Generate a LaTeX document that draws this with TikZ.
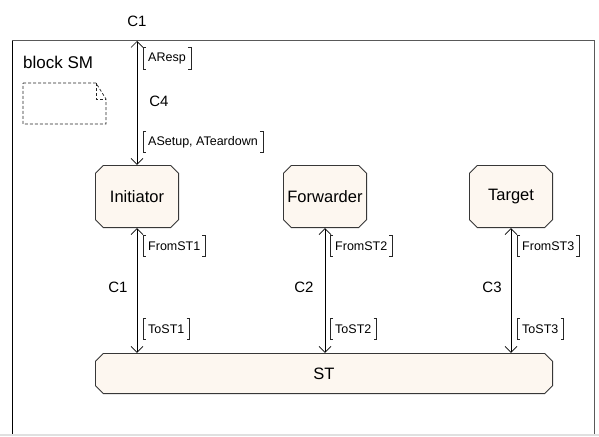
\documentclass[tikz,border=0pt]{standalone}
\usepackage{fontspec}
\setmainfont{Liberation Sans}
\usetikzlibrary{arrows.meta}
\definecolor{partfill}{RGB}{253,247,240}
\definecolor{partline}{RGB}{55,55,55}
\newcommand\sigbrackets[1]{%
  \draw[brk] ([xshift=3pt]#1.north west) -- (#1.north west) -- (#1.south west) -- ([xshift=3pt]#1.south west);
  \draw[brk] ([xshift=-3pt]#1.north east) -- (#1.north east) -- (#1.south east) -- ([xshift=-3pt]#1.south east);}
\begin{document}
\begin{tikzpicture}[x=1pt,y=-1pt,
  part/.style={rectangle, inner sep=0pt, font=\fontsize{16.5}{18}\selectfont,
    path picture={
      \path (path picture bounding box.north west) coordinate (pnw)
            (path picture bounding box.south east) coordinate (pse);
      \filldraw[draw=partline, fill=partfill, line width=0.8pt]
        ([shift={(8.4pt,-0.4pt)}]pnw) -- ([shift={(-8.4pt,-0.4pt)}]pnw -| pse)
        -- ([shift={(-0.4pt,-8.4pt)}]pnw -| pse) -- ([shift={(-0.4pt,8.4pt)}]pse)
        -- ([shift={(-8.4pt,0.4pt)}]pse) -- ([shift={(8.4pt,0.4pt)}]pse -| pnw)
        -- ([shift={(0.4pt,8.4pt)}]pse -| pnw) -- ([shift={(0.4pt,-8.4pt)}]pnw) -- cycle;
    }},
  chan/.style={line width=0.7pt, {Straight Barb[length=6pt,width=12pt]}-{Straight Barb[length=6pt,width=12pt]}},
  chname/.style={font=\fontsize{15}{17}\selectfont, inner sep=0pt},
  siglist/.style={anchor=west, font=\fontsize{12.5}{14}\selectfont, inner xsep=5pt, inner ysep=0pt, minimum height=21pt},
  brk/.style={line width=0.6pt, black!85},
  notebox/.style={dash pattern=on 3pt off 2pt, line width=0.7pt, black!85}
]
\useasboundingbox (0,0) rectangle (599,436);

% block frame
\fill[black!12] (0,434) rectangle (599,436);
\draw[line width=1pt, black!65] (12,41) -- (594,41) -- (594,434);
\draw[line width=1pt, black] (12,41) -- (12,434);
\node[anchor=west, inner sep=0pt, font=\fontsize{17}{19}\selectfont] (blk) at (23,62) {block SM};

% note symbol
\draw[notebox] (23,83) -- (96,83) -- (106,99) -- (106,124) -- (23,124) -- cycle;
\draw[notebox] (96,83) -- (96,99) -- (106,99);

% parts
\node[part, minimum width=84pt, minimum height=63pt] (ini) at (137,196.5) {Initiator};
\node[part, minimum width=84pt, minimum height=63pt] (fwd) at (325,196.5) {Forwarder};
\node[part, minimum width=84pt, minimum height=63pt] (tgt) at (511,196.5) {Target};
\node[part, minimum width=458pt, minimum height=41pt] (st) at (324,373.5) {ST};

% channel C4 to the environment
\coordinate (envtop) at (137,41);
\draw[chan] (envtop) -- (ini.north);
\node[chname] (c1top) at (137,21) {C1};
\node[chname] (c4) at (159,101) {C4};
\node[siglist] (aresp) at (143,58.5) {AResp};
\node[siglist] (asetup) at (143,142) {ASetup, ATeardown};
\sigbrackets{aresp}
\sigbrackets{asetup}

% channels to ST
\draw[chan] (ini.south) -- (ini.south |- st.north);
\draw[chan] (fwd.south) -- (fwd.south |- st.north);
\draw[chan] (tgt.south) -- (tgt.south |- st.north);
\node[chname] (c1) at (118,287) {C1};
\node[chname] (c2) at (304,287) {C2};
\node[chname] (c3) at (492,287) {C3};

\node[siglist] (from1) at (143,246) {FromST1};
\node[siglist] (from2) at (330,246) {FromST2};
\node[siglist] (from3) at (517,246) {FromST3};
\node[siglist] (to1) at (143,329) {ToST1};
\node[siglist] (to2) at (330,329) {ToST2};
\node[siglist] (to3) at (517,329) {ToST3};
\foreach \n in {from1,from2,from3,to1,to2,to3} {\sigbrackets{\n}}
\end{tikzpicture}
\end{document}
